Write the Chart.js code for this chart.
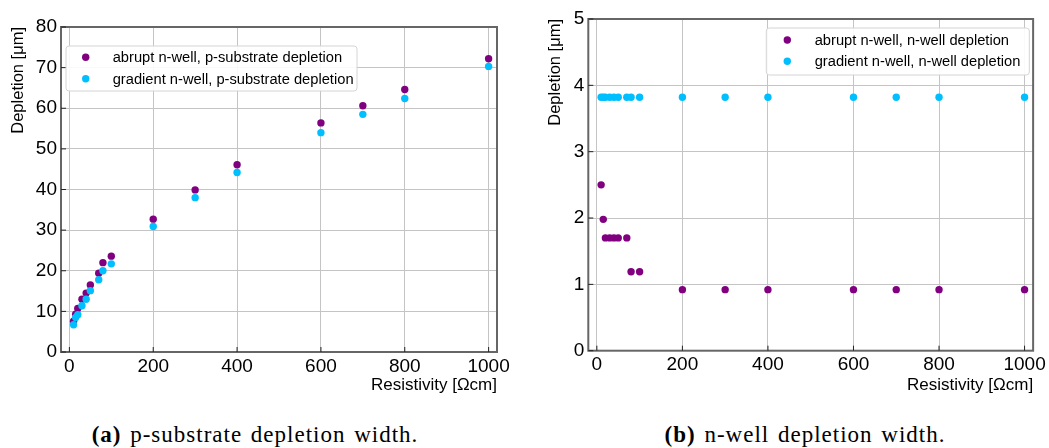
<!DOCTYPE html>
<html>
<head>
<meta charset="utf-8">
<script src="https://cdn.jsdelivr.net/npm/chart.js@4.4.0/dist/chart.umd.min.js"></script>
<style>
  body { margin: 0; background: #fff; width: 1049px; height: 448px; position: relative; overflow: hidden; }
  .box { position: absolute; top: 0; width: 520px; height: 400px; }
  .cap { position: absolute; top: 422px; width: 520px; text-align: center; font-family: "Liberation Serif", serif; font-size: 23px; letter-spacing: 1px; word-spacing: 2px; color: #000; }
</style>
</head>
<body>
<div class="box" style="left:0"><canvas id="chartA"></canvas></div>
<div class="box" style="left:529px"><canvas id="chartB"></canvas></div>
<div class="cap" style="left:-5px"><b>(a)</b> p-substrate depletion width.</div>
<div class="cap" style="left:545px"><b>(b)</b> n-well depletion width.</div>
<script>
// data
const resistivity = [10, 15, 20, 30, 40, 50, 70, 80, 100, 200, 300, 400, 600, 700, 800, 1000];
const abruptSubstrate = [7.6, 9.3, 10.7, 13.0, 14.5, 16.5, 19.4, 22.0, 23.6, 32.7, 39.9, 46.1, 56.4, 60.6, 64.6, 72.2];
const gradientSubstrate = [6.7, 8.5, 9.2, 11.4, 13.0, 15.1, 17.8, 20.0, 21.7, 30.9, 38.0, 44.2, 54.0, 58.5, 62.4, 70.3];
const abruptWell = [2.5, 1.98, 1.7, 1.7, 1.7, 1.7, 1.7, 1.19, 1.19, 0.92, 0.92, 0.92, 0.92, 0.92, 0.92, 0.92];
const gradientWell = [3.82, 3.82, 3.82, 3.82, 3.82, 3.82, 3.82, 3.82, 3.82, 3.82, 3.82, 3.82, 3.82, 3.82, 3.82, 3.82];

const xTicks = [0, 200, 400, 600, 800, 1000];
const yTicksA = [0, 10, 20, 30, 40, 50, 60, 70, 80];
const yTicksB = [0, 1, 2, 3, 4, 5];

const PURPLE = '#800080';
const CYAN = '#00bfff';
const FONT = '"Liberation Sans", Arial, sans-serif';

function points(ys) {
    return resistivity.map((x, i) => ({ x: x, y: ys[i] }));
}

// frame round the plot area with inward ticks
const framePlugin = {
    id: 'frame',
    beforeDatasetsDraw(chart) {
        const { ctx, chartArea: a } = chart;
        ctx.save();
        ctx.strokeStyle = '#666';
        ctx.lineWidth = 2;
        ctx.strokeRect(a.left, a.top, a.right - a.left, a.bottom - a.top);
        ctx.strokeStyle = '#222';
        ctx.lineWidth = 1;
        ctx.beginPath();
        chart.scales.x.ticks.forEach(t => {
            const px = chart.scales.x.getPixelForValue(t.value);
            ctx.moveTo(px, a.bottom);
            ctx.lineTo(px, a.bottom - 5);
        });
        chart.scales.y.ticks.forEach(t => {
            const py = chart.scales.y.getPixelForValue(t.value);
            ctx.moveTo(a.left, py);
            ctx.lineTo(a.left + 5, py);
        });
        ctx.stroke();
        ctx.restore();
    }
};

// matplotlib-like legend box
const boxLegend = {
    id: 'boxLegend',
    afterDatasetsDraw(chart, args, o) {
        const ctx = chart.ctx;
        ctx.save();
        ctx.beginPath();
        ctx.roundRect(o.x, o.y, o.w, o.h, 3);
        ctx.fillStyle = 'rgba(255,255,255,0.9)';
        ctx.fill();
        ctx.strokeStyle = '#d4d4d4';
        ctx.lineWidth = 1;
        ctx.stroke();
        ctx.font = '14.7px ' + FONT;
        ctx.textBaseline = 'middle';
        chart.data.datasets.forEach((ds, i) => {
            const yy = o.rowY + i * o.dy;
            ctx.beginPath();
            ctx.arc(o.markX, yy, 3.7, 0, Math.PI * 2);
            ctx.fillStyle = ds.backgroundColor;
            ctx.fill();
            ctx.fillStyle = '#000';
            ctx.fillText(ds.label, o.textX, yy + 1);
        });
        ctx.restore();
    }
};

function makeChart(id, sets, yTicks, yMax, lay) {
    return new Chart(document.getElementById(id), {
        type: 'scatter',
        data: {
            datasets: sets.map((s, i) => ({
                label: s.label,
                data: points(s.values),
                backgroundColor: s.color,
                borderWidth: 0,
                pointRadius: 3.7,
                pointHoverRadius: 3.7,
                order: sets.length - i
            }))
        },
        options: {
            responsive: true,
            maintainAspectRatio: false,
            animation: false,
            layout: { padding: { top: lay.top, right: lay.right, left: 0, bottom: 0 } },
            plugins: {
                legend: { display: false },
                tooltip: { enabled: false },
                boxLegend: lay.legend
            },
            scales: {
                x: {
                    type: 'linear',
                    min: -20,
                    max: 1020,
                    afterBuildTicks: s => { s.ticks = xTicks.map(v => ({ value: v })); },
                    afterFit: s => { s.height = lay.xHeight; },
                    grid: { color: '#c4c4c4', lineWidth: 1, drawTicks: false },
                    border: { display: false },
                    ticks: {
                        padding: 3, color: '#000', autoSkip: false, maxRotation: 0,
                        font: { family: FONT, size: 19 },
                        callback: v => String(v)
                    },
                    title: {
                        display: true, text: 'Resistivity [Ωcm]', align: 'end', color: '#000',
                        font: { family: FONT, size: 17 },
                        padding: { top: 0, bottom: 4 }
                    }
                },
                y: {
                    type: 'linear',
                    min: 0,
                    max: yMax,
                    afterBuildTicks: s => { s.ticks = yTicks.map(v => ({ value: v })); },
                    afterFit: s => { s.width = lay.yWidth; },
                    grid: { color: '#c4c4c4', lineWidth: 1, drawTicks: false },
                    border: { display: false },
                    ticks: {
                        padding: 4, color: '#000',
                        font: { family: FONT, size: 19 },
                        callback: v => String(v)
                    },
                    title: {
                        display: true, text: 'Depletion [μm]', align: 'end', color: '#000',
                        font: { family: FONT, size: 16.5 },
                        padding: { top: lay.yTitlePad, bottom: 0 }
                    }
                }
            }
        },
        plugins: [framePlugin, boxLegend]
    });
}

makeChart('chartA', [
    { label: 'abrupt n-well, p-substrate depletion', values: abruptSubstrate, color: PURPLE },
    { label: 'gradient n-well, p-substrate depletion', values: gradientSubstrate, color: CYAN }
], yTicksA, 80, {
    top: 27, right: 23, xHeight: 48, yWidth: 61, yTitlePad: 9,
    legend: { x: 66, y: 46, w: 291, h: 45, markX: 85.7, rowY: 57.3, dy: 21.4, textX: 112.7 }
});

makeChart('chartB', [
    { label: 'abrupt n-well, n-well depletion', values: abruptWell, color: PURPLE },
    { label: 'gradient n-well, n-well depletion', values: gradientWell, color: CYAN }
], yTicksB, 5, {
    top: 19, right: 15.7, xHeight: 49.3, yWidth: 59.3, yTitlePad: 16.7,
    legend: { x: 237.3, y: 28, w: 263, h: 47, markX: 258.3, rowY: 40, dy: 21.3, textX: 285.7 }
});
</script>
</body>
</html>
